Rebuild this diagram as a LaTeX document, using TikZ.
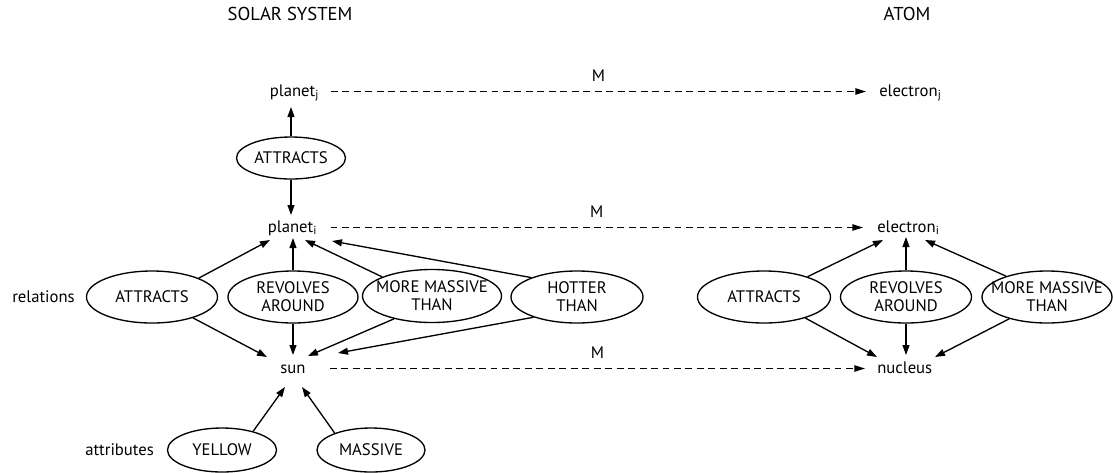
\documentclass[tikz,border=0pt]{standalone}
\usepackage{fontspec}
\setmainfont{PT Sans}
\usetikzlibrary{arrows.meta,calc,shapes.geometric}
\newlength\pxu
\setlength\pxu{0.75pt}
% centred text line that takes no width, so the ellipse keeps its set size
\newcommand\cl[1]{\makebox[0pt]{#1}}
\begin{document}
\begin{tikzpicture}[x=0.75pt,y=-0.75pt,
  every node/.style={font=\fontsize{12.5}{13.5}\selectfont},
  lbl/.style={inner sep=0pt},
  head/.style={inner sep=0pt,font=\fontsize{14}{16}\selectfont},
  rel/.style 2 args={ellipse,draw,line width=1pt,inner sep=0pt,align=center,
    minimum width=#1\pxu,minimum height=#2\pxu},
  arr/.style={line width=1pt,-{Triangle[length=7.5pt,width=5.2pt]}},
  map/.style={line width=1pt,dash pattern=on 5.2pt off 3.4pt,
    -{Triangle[length=8pt,width=4.8pt]}},
  mlbl/.style={inner sep=0pt,above=7pt}]
\fill[white] (0,0) rectangle (1113,472);
\useasboundingbox (0,0) rectangle (1113,472);

% headings
\node[head,anchor=base] (t1) at (290,20.5) {SOLAR SYSTEM};
\node[head,anchor=base] (t2) at (907,20.5) {ATOM};

% objects
\node[lbl,anchor=base] (pj) at (294.5,96) {planet\textsubscript{j}};
\node[lbl,anchor=base] (pi) at (292.5,232) {planet\textsubscript{i}};
\node[lbl,anchor=base] (sun) at (293,373) {sun};
\node[lbl,anchor=base west] (ej) at (879,96) {electron\textsubscript{j}};
\node[lbl,anchor=base west] (ei) at (877,232) {electron\textsubscript{i}};
\node[lbl,anchor=base west] (nuc) at (877,373) {nucleus};

% row labels
\node[lbl,anchor=base west] (rl) at (12,302) {relations};
\node[lbl,anchor=base west] (al) at (85,455) {attributes};

% solar system relations
\node[rel={109}{42}] (sT) at (291,158) {\cl{ATTRACTS}};
\node[rel={131}{52}] (sA) at (152,297) {\cl{ATTRACTS}};
\node[rel={130}{52}] (sR) at (293,297) {\cl{REVOLVES}\\\cl{AROUND}};
\node[rel={139}{53}] (sM) at (432,296) {\cl{MORE MASSIVE}\\\cl{THAN}};
\node[rel={132}{52}] (sH) at (577,297) {\cl{HOTTER}\\\cl{THAN}};

% attributes
\node[rel={109}{44}] (yel) at (222,450) {\cl{YELLOW}};
\node[rel={108}{44}] (mas) at (371,450) {\cl{MASSIVE}};

% atom relations
\node[rel={133}{52}] (aA) at (764,297) {\cl{ATTRACTS}};
\node[rel={131}{52}] (aR) at (906,297) {\cl{REVOLVES}\\\cl{AROUND}};
\node[rel={130}{52}] (aM) at (1047,297) {\cl{MORE MASSIVE}\\\cl{THAN}};

% planet_j -- planet_i
\draw[arr] (sT.north) -- ($(sT.north |- pj.base)+(0,11)$);
\draw[arr] (sT.south) -- ($(sT.south |- pi.base)+(0,-17)$);

% relations to planet_i
\draw[arr] (sA.22.9) -- ($(pi.base)+(-22.5,8)$);
\draw[arr] (sR.north) -- ($(sR.north |- pi.base)+(0,6)$);
\draw[arr] (sM.159) -- ($(pi.base)+(12.5,8)$);
\draw[arr] (sH.157) -- ($(pi.base)+(39.5,9)$);

% relations to sun
\draw[arr] (sA.-27.7) -- ($(sun.base)+(-26,-16)$);
\draw[arr] (sR.south) -- ($(sR.south |- sun.base)+(0,-18)$);
\draw[arr] (sM.-149) -- ($(sun.base)+(15,-17)$);
\draw[arr] (sH.-155) -- ($(sun.base)+(45,-20)$);

% attributes to sun
\draw[arr] (yel.31.5) -- ($(sun.base)+(-8,14)$);
\draw[arr] (mas.155) -- ($(sun.base)+(9,14)$);

% atom relations
\draw[arr] (aA.25.5) -- ($(ei.base west)+(6,8)$);
\draw[arr] (aR.north) -- ($(aR.north |- ei.base)+(0,5)$);
\draw[arr] (aM.153) -- ($(ei.base west)+(48,8)$);
\draw[arr] (aA.-27) -- ($(nuc.base west)+(0,-16)$);
\draw[arr] (aR.south) -- ($(aR.south |- nuc.base)+(0,-18)$);
\draw[arr] (aM.-150) -- ($(nuc.base west)+(58,-16)$);

% mappings
\draw[map] ($(pj.base)+(36.5,-4.5)$) -- ($(ej.base west |- pj.base)+(-13,-4.5)$)
  node[mlbl,midway] (m1) {M};
\draw[map] ($(pi.base)+(38,-4.5)$) -- ($(ei.base west |- pi.base)+(-14,-4.5)$)
  node[mlbl,midway] (m2) {M};
\draw[map] ($(sun.base)+(37,-4.5)$) -- ($(nuc.base west |- sun.base)+(-12,-4.5)$)
  node[mlbl,midway] (m3) {M};
\end{tikzpicture}
\end{document}
